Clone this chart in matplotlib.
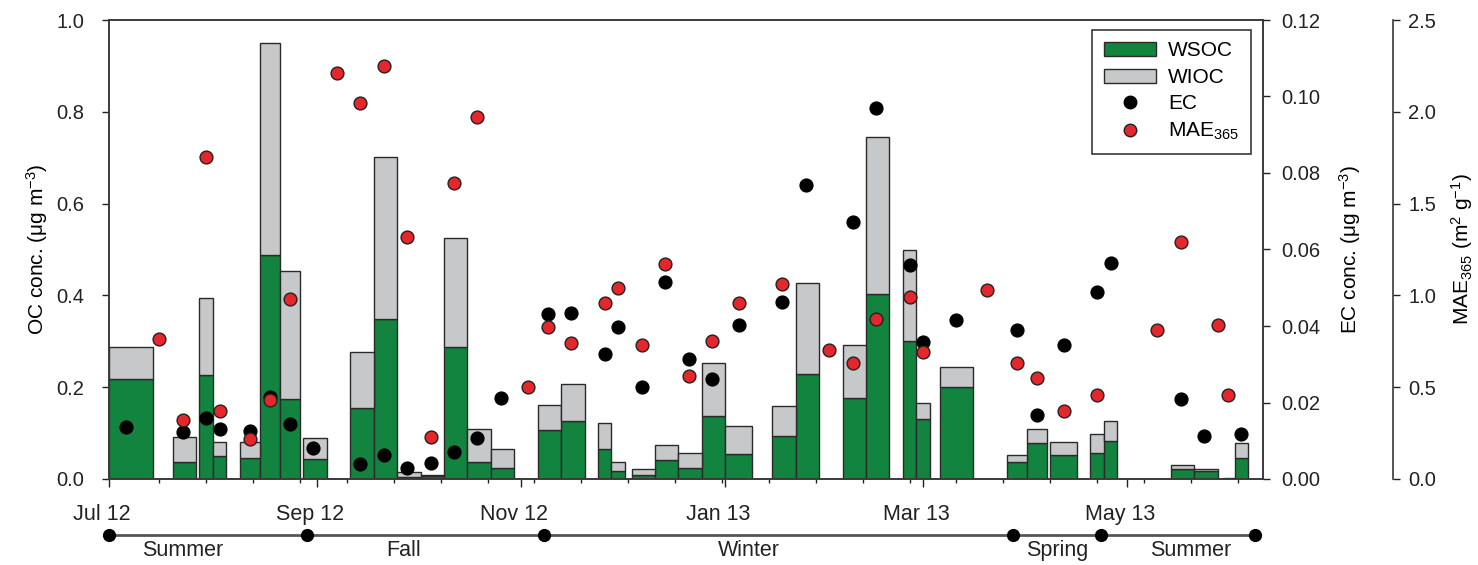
import numpy as np
import pandas as pd
import matplotlib
matplotlib.use("Agg")
import matplotlib.pyplot as plt
import matplotlib.dates as mdates
from matplotlib.patches import Patch
from matplotlib.lines import Line2D
from matplotlib.ticker import FixedLocator, FormatStrFormatter
from matplotlib.transforms import ScaledTranslation

plt.rcParams['font.family'] = ['Liberation Sans', 'DejaVu Sans']
plt.rcParams['mathtext.default'] = 'regular'

# ---------------- data ----------------
bar_start = ["2012-07-01", "2012-07-20", "2012-07-28", "2012-08-01", "2012-08-09",
             "2012-08-15", "2012-08-21", "2012-08-28", "2012-09-11", "2012-09-18",
             "2012-09-25", "2012-10-02", "2012-10-09", "2012-10-16", "2012-10-23",
             "2012-11-06", "2012-11-13", "2012-11-24", "2012-11-28", "2012-12-04",
             "2012-12-11", "2012-12-18", "2012-12-25", "2013-01-01", "2013-01-15",
             "2013-01-22", "2013-02-05", "2013-02-12", "2013-02-23", "2013-02-27",
             "2013-03-06", "2013-03-26", "2013-04-01", "2013-04-08", "2013-04-20",
             "2013-04-24", "2013-05-14", "2013-05-21", "2013-05-30", "2013-06-02"]
bar_end = ["2012-07-14", "2012-07-27", "2012-08-01", "2012-08-05", "2012-08-15",
           "2012-08-21", "2012-08-27", "2012-09-04", "2012-09-18", "2012-09-25",
           "2012-10-02", "2012-10-09", "2012-10-16", "2012-10-23", "2012-10-30",
           "2012-11-13", "2012-11-20", "2012-11-28", "2012-12-02", "2012-12-11",
           "2012-12-18", "2012-12-25", "2013-01-01", "2013-01-09", "2013-01-22",
           "2013-01-29", "2013-02-12", "2013-02-19", "2013-02-27", "2013-03-03",
           "2013-03-16", "2013-04-01", "2013-04-07", "2013-04-16", "2013-04-24",
           "2013-04-28", "2013-05-21", "2013-05-28", "2013-06-02", "2013-06-06"]
wsoc = [0.218, 0.038, 0.227, 0.051, 0.045, 0.488, 0.174, 0.043, 0.155, 0.349,
        0.005, 0.006, 0.287, 0.036, 0.024, 0.107, 0.126, 0.065, 0.017, 0.009,
        0.041, 0.025, 0.137, 0.055, 0.093, 0.228, 0.176, 0.403, 0.301, 0.130,
        0.200, 0.036, 0.078, 0.053, 0.056, 0.083, 0.021, 0.018, 0.001, 0.046]
wioc = [0.069, 0.054, 0.167, 0.030, 0.036, 0.461, 0.279, 0.047, 0.121, 0.353,
        0.011, 0.003, 0.239, 0.073, 0.041, 0.054, 0.081, 0.058, 0.019, 0.013,
        0.034, 0.032, 0.116, 0.060, 0.065, 0.198, 0.117, 0.343, 0.198, 0.036,
        0.045, 0.017, 0.031, 0.027, 0.041, 0.043, 0.009, 0.004, 0.001, 0.032]

ec_dates = ["2012-07-06", "2012-07-23", "2012-07-30", "2012-08-03", "2012-08-12",
            "2012-08-18", "2012-08-24", "2012-08-31", "2012-09-14", "2012-09-21",
            "2012-09-28", "2012-10-05", "2012-10-12", "2012-10-19", "2012-10-26",
            "2012-11-09", "2012-11-16", "2012-11-26", "2012-11-30", "2012-12-07",
            "2012-12-14", "2012-12-21", "2012-12-28", "2013-01-05", "2013-01-18",
            "2013-01-25", "2013-02-08", "2013-02-15", "2013-02-25", "2013-03-01",
            "2013-03-11", "2013-03-29", "2013-04-04", "2013-04-12", "2013-04-22",
            "2013-04-26", "2013-05-17", "2013-05-24", "2013-06-04"]
ec = [0.0137, 0.0124, 0.0159, 0.0131, 0.0126, 0.0214, 0.0144, 0.0080, 0.0038, 0.0063,
      0.0028, 0.0043, 0.0071, 0.0106, 0.0211, 0.0431, 0.0435, 0.0326, 0.0397, 0.0240,
      0.0514, 0.0315, 0.0262, 0.0402, 0.0463, 0.0768, 0.0672, 0.0971, 0.0560, 0.0359,
      0.0415, 0.0390, 0.0167, 0.0350, 0.0490, 0.0565, 0.0208, 0.0112, 0.0118]

mae_dates = ["2012-07-16", "2012-07-23", "2012-07-30", "2012-08-03", "2012-08-12",
             "2012-08-18", "2012-08-24", "2012-09-07", "2012-09-14", "2012-09-21",
             "2012-09-28", "2012-10-05", "2012-10-12", "2012-10-19", "2012-11-03",
             "2012-11-09", "2012-11-16", "2012-11-26", "2012-11-30", "2012-12-07",
             "2012-12-14", "2012-12-21", "2012-12-28", "2013-01-05", "2013-01-18",
             "2013-02-01", "2013-02-08", "2013-02-15", "2013-02-25", "2013-03-01",
             "2013-03-20", "2013-03-29", "2013-04-04", "2013-04-12", "2013-04-22",
             "2013-05-10", "2013-05-17", "2013-05-28", "2013-05-31"]
mae = [0.76, 0.32, 1.755, 0.37, 0.22, 0.43, 0.98, 2.21, 2.05, 2.25,
       1.32, 0.23, 1.61, 1.97, 0.50, 0.83, 0.74, 0.96, 1.04, 0.73,
       1.17, 0.56, 0.75, 0.96, 1.06, 0.70, 0.63, 0.87, 0.99, 0.69,
       1.03, 0.63, 0.55, 0.37, 0.46, 0.81, 1.29, 0.84, 0.46]

season_bounds = ["2012-07-01", "2012-08-29", "2012-11-08", "2013-03-28", "2013-04-23", "2013-06-08"]
season_names = ["Summer", "Fall", "Winter", "Spring", "Summer"]
season_label_dates = ["2012-07-23", "2012-09-27", "2013-01-08", "2013-04-10", "2013-05-20"]

x_start, x_end = "2012-07-01", "2013-06-10 12:00"

# ---------------- style ----------------
GREEN = "#13843F"
GRAY = "#C7C8CA"
RED = "#E5262A"
EDGE = "#2a2a2a"
SPINE = "#3a3a3a"

d2n = lambda s: mdates.date2num(pd.to_datetime(s))

fig = plt.figure(figsize=(14.78, 5.65), dpi=100)
W, H = 1478, 565
L, R, T, B = 109, 1263, 20, 479
ax = fig.add_axes([L / W, 1 - B / H, (R - L) / W, (B - T) / H])

xs = d2n(bar_start)
widths = d2n(bar_end) - xs
ax.bar(xs, wsoc, width=widths, align='edge', color=GREEN, edgecolor=EDGE, linewidth=1.0, zorder=2)
ax.bar(xs, wioc, bottom=wsoc, width=widths, align='edge', color=GRAY, edgecolor=EDGE, linewidth=1.0, zorder=2)

ax.set_xlim(d2n(x_start), d2n(x_end))
ax.set_ylim(0, 1.0)
ax.yaxis.set_major_locator(FixedLocator([0, 0.2, 0.4, 0.6, 0.8, 1.0]))
ax.yaxis.set_major_formatter(FormatStrFormatter('%.1f'))
ax.xaxis.set_major_locator(mdates.MonthLocator(bymonth=[1, 3, 5, 7, 9, 11]))
ax.xaxis.set_major_formatter(mdates.DateFormatter('%b %y'))
minor_ticks = mdates.date2num(pd.date_range("2012-07-16", "2013-06-10", freq="14D"))
ax.xaxis.set_minor_locator(FixedLocator(minor_ticks))

ax.tick_params(axis='y', direction='out', length=5, width=1, pad=13, labelsize=14.5, colors='#222')
ax.tick_params(axis='x', which='major', direction='out', length=6, width=1, pad=12, labelsize=15.5, colors='#222')
ax.tick_params(axis='x', which='minor', direction='out', length=3, width=1, colors='#222')
ax.set_ylabel('OC conc. (μg m$^{-3}$)', fontsize=15, labelpad=4)
for s in ax.spines.values():
    s.set_color(SPINE)
    s.set_linewidth(1.2)

# EC axis
ax2 = ax.twinx()
ax2.scatter(d2n(ec_dates), ec, s=85, color='black', zorder=3, clip_on=False)
ax2.set_ylim(0, 0.12)
ax2.yaxis.set_major_locator(FixedLocator([0, 0.02, 0.04, 0.06, 0.08, 0.10, 0.12]))
ax2.yaxis.set_major_formatter(FormatStrFormatter('%.2f'))
ax2.tick_params(axis='y', direction='out', length=5, width=1, pad=8, labelsize=14.5, colors='#222')
ax2.set_ylabel('EC conc. (μg m$^{-3}$)', fontsize=15, labelpad=12)
for s in ax2.spines.values():
    s.set_color(SPINE)
    s.set_linewidth(1.2)

# MAE axis
ax3 = ax.twinx()
ax3.spines['right'].set_position(('axes', (1393 - L) / (R - L)))
for k in ['top', 'left', 'bottom']:
    ax3.spines[k].set_visible(False)
ax3.spines['right'].set_color(SPINE)
ax3.spines['right'].set_linewidth(1.2)
ax3.scatter(d2n(mae_dates), mae, s=85, color=RED, edgecolor='#222', linewidth=1.0, zorder=3, clip_on=False)
ax3.set_ylim(0, 2.5)
ax3.yaxis.set_major_locator(FixedLocator([0, 0.5, 1.0, 1.5, 2.0, 2.5]))
ax3.yaxis.set_major_formatter(FormatStrFormatter('%.1f'))
ax3.tick_params(axis='y', direction='out', length=5, width=1, pad=6, labelsize=14.5, colors='#222')
ax3.set_ylabel('MAE$_{365}$ (m$^2$ g$^{-1}$)', fontsize=15, labelpad=9)

# legend
handles = [Patch(facecolor=GREEN, edgecolor=EDGE, linewidth=1.0),
           Patch(facecolor=GRAY, edgecolor=EDGE, linewidth=1.0),
           Line2D([], [], marker='o', ls='', color='black', ms=9),
           Line2D([], [], marker='o', ls='', mfc=RED, mec='#222', ms=9)]
labels = ['WSOC', 'WIOC', 'EC', 'MAE$_{365}$']
leg = ax3.legend(handles, labels, loc='upper right', bbox_to_anchor=(1251 / W, 1 - 30 / H),
                 bbox_transform=fig.transFigure, borderaxespad=0, fontsize=15,
                 frameon=True, fancybox=False, edgecolor=SPINE, framealpha=1,
                 handlelength=2.5, handleheight=0.65, handletextpad=0.6,
                 labelspacing=0.36, borderpad=0.55)
leg.get_frame().set_linewidth(1.2)

# season timeline
axs = fig.add_axes([L / W, 0, (R - L) / W, 56.5 / H])
axs.set_xlim(d2n(x_start), d2n(x_end))
axs.set_ylim(0, 1)
axs.axis('off')
axs.plot(d2n(season_bounds), [0.531] * len(season_bounds), '-', color='#555', lw=2,
         marker='o', ms=8.5, mfc='black', mec='black', clip_on=False)
for name, dt in zip(season_names, season_label_dates):
    axs.text(d2n(dt), 0.26, name, ha='center', va='center', fontsize=15.5, color='#222')

# shift month labels slightly left
fig.canvas.draw()
off = ScaledTranslation(-7 / 100, 0, fig.dpi_scale_trans)
for t in ax.xaxis.get_major_ticks():
    t.label1.set_transform(t.label1.get_transform() + off)

fig.savefig("out.png", dpi=100)
